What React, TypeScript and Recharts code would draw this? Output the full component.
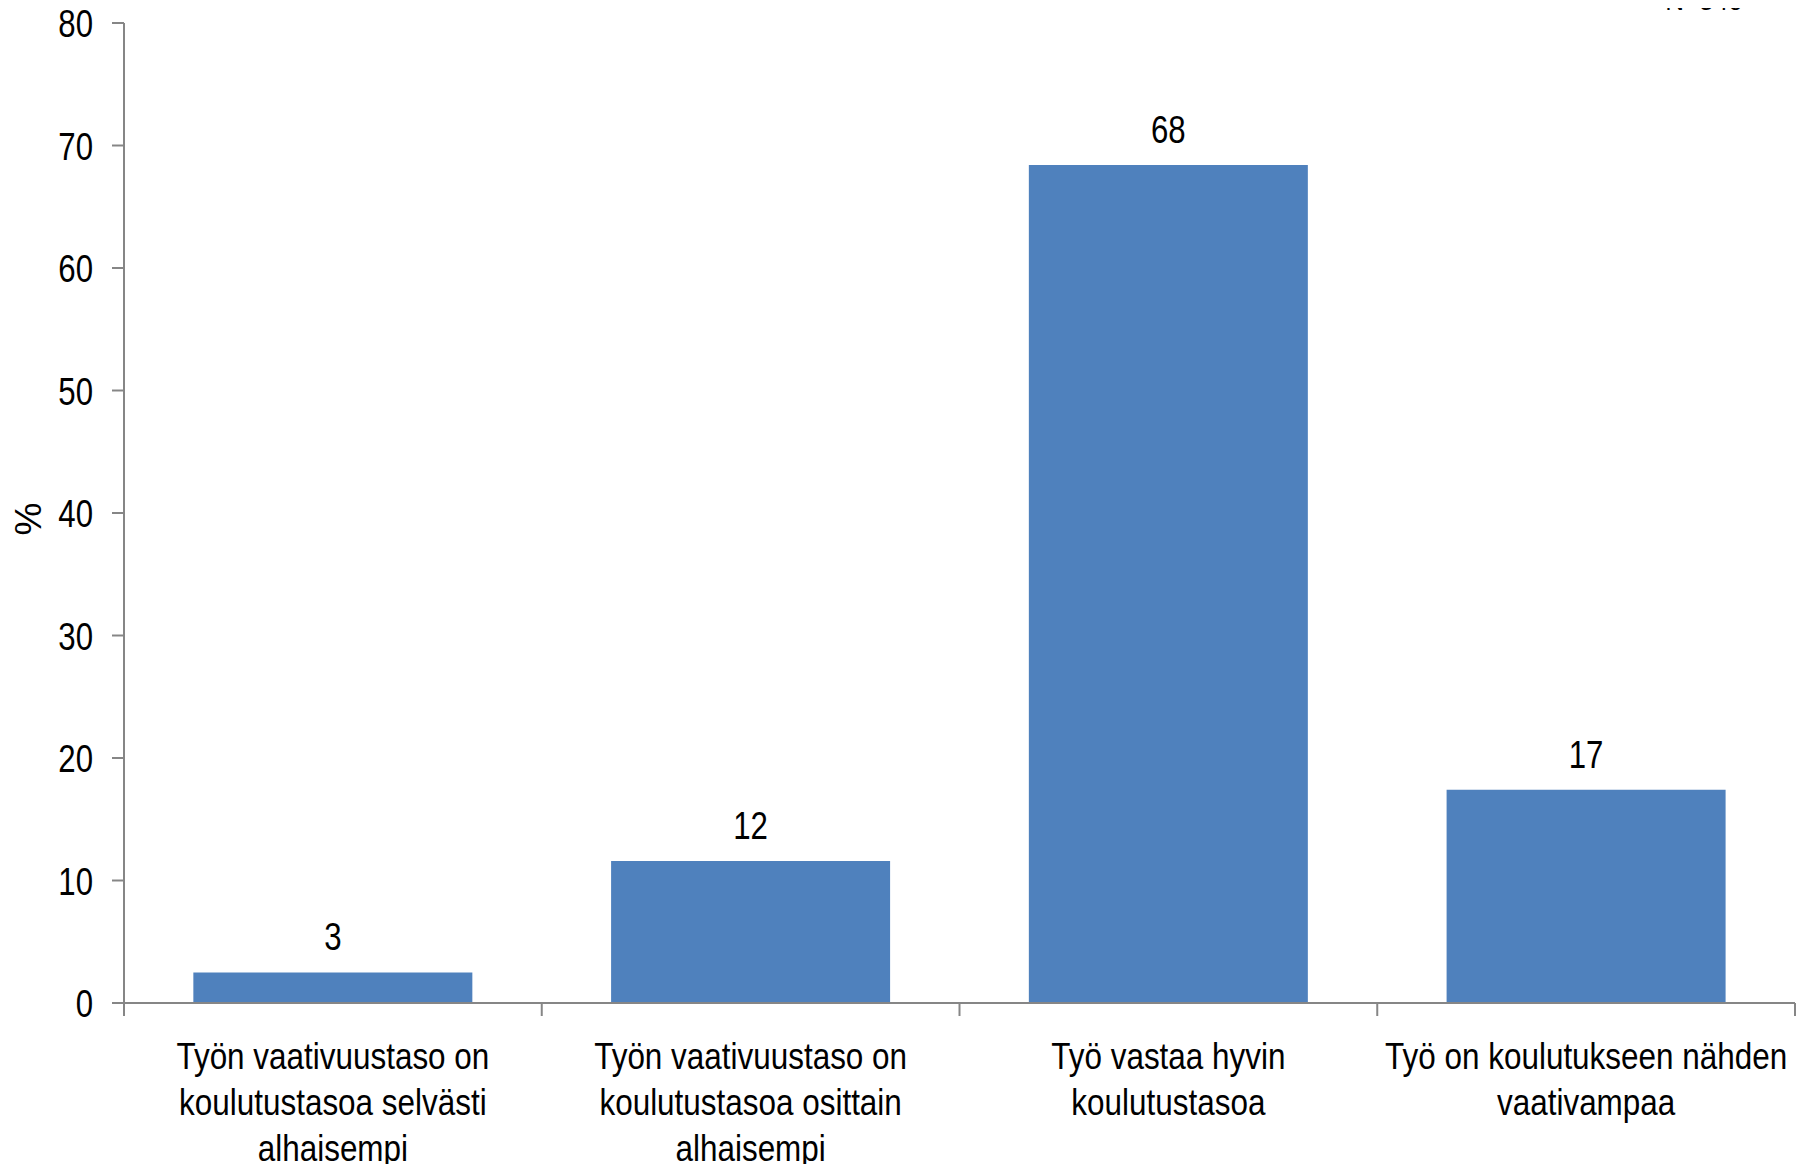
import { BarChart, Bar, XAxis, YAxis, LabelList } from "recharts";

const categories = [
  "Työn vaativuustaso on koulutustasoa selvästi alhaisempi",
  "Työn vaativuustaso on koulutustasoa osittain alhaisempi",
  "Työ vastaa hyvin koulutustasoa",
  "Työ on koulutukseen nähden vaativampaa",
];

// how the reference wraps each category label
const categoryLines = [
  ["Työn vaativuustaso on", "koulutustasoa selvästi", "alhaisempi"],
  ["Työn vaativuustaso on", "koulutustasoa osittain", "alhaisempi"],
  ["Työ vastaa hyvin", "koulutustasoa"],
  ["Työ on koulutukseen nähden", "vaativampaa"],
];

const shares = [2.5, 11.6, 68.4, 17.4];
const yTicks = [0, 10, 20, 30, 40, 50, 60, 70, 80];
const sampleNote = "N=540";

const rows = categories.map((name, i) => ({ name, value: shares[i] }));

const W = 1816;
const H = 1172;
const LEFT = 124;
const RIGHT = 21;
const BAND = (W - LEFT - RIGHT) / categories.length;
const FONT = '"Liberation Sans", Arial, sans-serif';
const AXIS = "#868686";
// no condensed font installed, so squeeze text horizontally
const NUM_SX = 0.8;
const CAT_SX = 0.85;

const CategoryTick = (props: any) => {
  const { x, y, index } = props;
  const lines = categoryLines[index] || [];
  return (
    <g>
      <line x1={x - BAND / 2} x2={x - BAND / 2} y1={y} y2={y + 13} stroke={AXIS} strokeWidth={2} />
      {index === categories.length - 1 && (
        <line x1={x + BAND / 2} x2={x + BAND / 2} y1={y} y2={y + 13} stroke={AXIS} strokeWidth={2} />
      )}
      <g transform={`translate(${x},${y + 66}) scale(${CAT_SX},1)`}>
        <text x={0} y={0} textAnchor="middle" fontFamily={FONT} fontSize={37} fill="#000">
          {lines.map((l, i) => (
            <tspan key={i} x={0} dy={i === 0 ? 0 : 46}>
              {l}
            </tspan>
          ))}
        </text>
      </g>
    </g>
  );
};

const ValueTick = (props: any) => {
  const { x, y, payload } = props;
  return (
    <g transform={`translate(${x},${y}) scale(${NUM_SX},1)`}>
      <text x={0} y={0} dy="0.36em" textAnchor="end" fontFamily={FONT} fontSize={39} fill="#000">
        {payload.value}
      </text>
    </g>
  );
};

const BarValue = (props: any) => {
  const { x, y, width, value } = props;
  return (
    <g transform={`translate(${Number(x) + Number(width) / 2},${Number(y) - 22}) scale(${NUM_SX},1)`}>
      <text x={0} y={0} textAnchor="middle" fontFamily={FONT} fontSize={39} fill="#000">
        {Math.round(Number(value))}
      </text>
    </g>
  );
};

const extraText = () => (
  <g>
    <text
      x={28}
      y={519}
      transform="rotate(-90 28 519)"
      textAnchor="middle"
      dominantBaseline="central"
      fontFamily={FONT}
      fontSize={37}
      fill="#000"
    >
      %
    </text>
    <text x={1704} y={10} textAnchor="middle" fontFamily={FONT} fontSize={26} fill="#000">
      {sampleNote}
    </text>
  </g>
);

export default function App() {
  return (
    <div style={{ margin: -8, background: "#fff", width: W, height: H }}>
      <BarChart
        width={W}
        height={H}
        data={rows}
        margin={{ top: 23, right: RIGHT, bottom: 0, left: 0 }}
        barCategoryGap="16.6%"
      >
        <XAxis
          dataKey="name"
          height={169}
          interval={0}
          tickLine={false}
          tickSize={0}
          tickMargin={0}
          tick={<CategoryTick />}
          axisLine={{ stroke: AXIS, strokeWidth: 2 }}
        />
        <YAxis
          width={LEFT}
          domain={[0, 80]}
          ticks={yTicks}
          interval={0}
          tickSize={12}
          tickMargin={19}
          axisLine={{ stroke: AXIS, strokeWidth: 2 }}
          tickLine={{ stroke: AXIS, strokeWidth: 2 }}
          tick={<ValueTick />}
          label={{ content: extraText }}
        />
        <Bar dataKey="value" fill="#4F81BD" isAnimationActive={false}>
          <LabelList dataKey="value" content={<BarValue />} />
        </Bar>
      </BarChart>
    </div>
  );
}
